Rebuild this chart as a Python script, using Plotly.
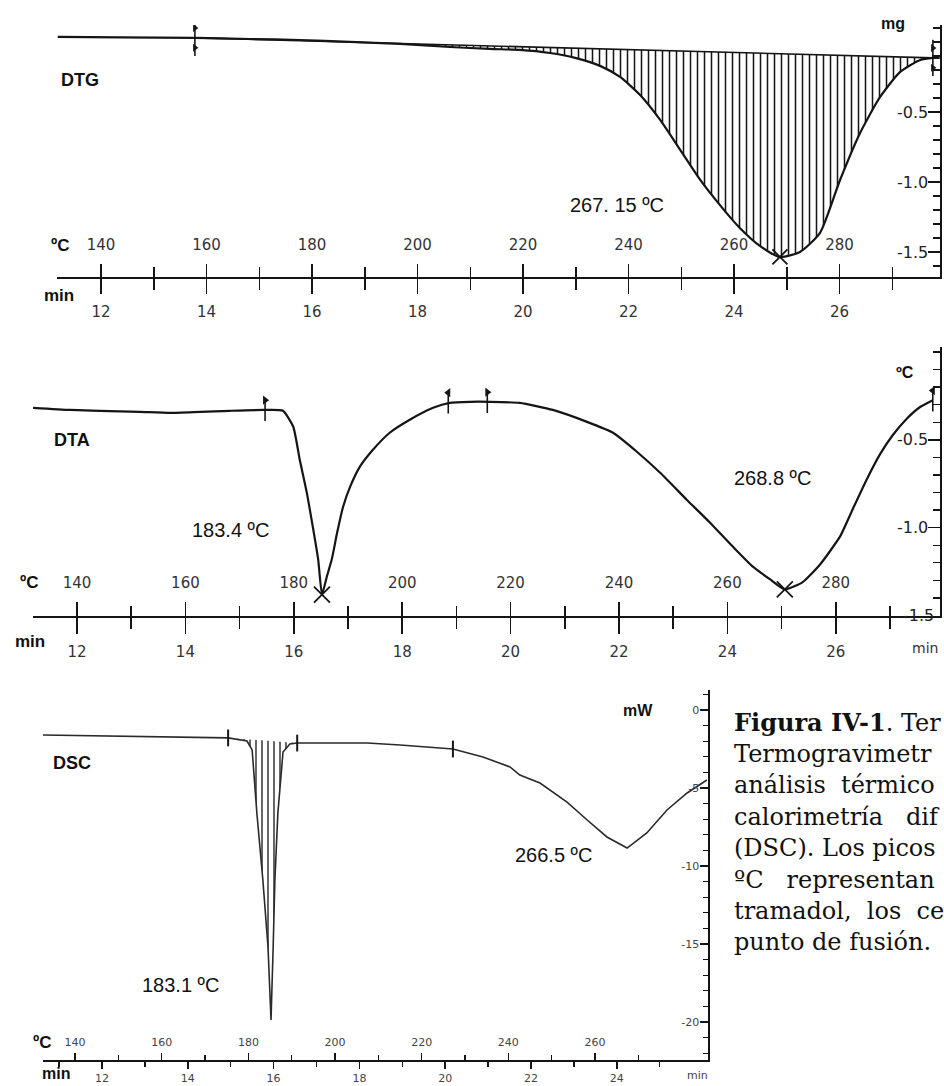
import plotly.graph_objects as go

W, H = 944, 1086


def px(x):
    return x / W


def py(y):
    return 1 - y / H


# ---------------- DATA ----------------
# DTG (time in min, signal in mg)
dtg_t = [11.18, 12.36, 13.78, 14.82, 15.77, 16.72, 17.67, 18.62, 19.37, 19.94, 20.51, 20.99,
         21.46, 21.84, 22.22, 22.60, 22.98, 23.36, 23.73, 24.11, 24.49, 24.87, 25.25, 25.63,
         26.01, 26.39, 26.77, 27.15, 27.53, 27.77, 27.90]
dtg_mg = [0.036, 0.032, 0.029, 0.021, 0.014, 0.0, -0.014, -0.036, -0.05, -0.057, -0.079, -0.114,
          -0.171, -0.25, -0.379, -0.557, -0.771, -0.986, -1.164, -1.329, -1.457, -1.536, -1.5, -1.364,
          -0.986, -0.65, -0.393, -0.214, -0.129, -0.114, -0.114]
dtg_flag_t = [13.78, 27.77]
dtg_flag_mg = [0.029, -0.114]
dtg_peak_t = [24.87]
dtg_peak_mg = [-1.536]

# DTA (time in min, signal in degC)
dta_t = [11.19, 11.87, 12.42, 13.16, 13.72, 14.27, 14.82, 15.47, 15.80, 15.99,
         16.11, 16.24, 16.35, 16.45, 16.52, 16.61, 16.70, 16.80, 16.91, 17.04,
         17.22, 17.46, 17.77, 18.14, 18.57, 18.88, 19.25, 19.62, 20.17, 20.78,
         21.41, 21.89, 22.33, 22.76, 23.25, 23.68, 24.10, 24.47, 24.79, 25.06,
         25.39, 25.71, 26.08, 26.32, 26.58, 26.82, 27.06, 27.31, 27.55, 27.79]
dta_c = [-0.318, -0.330, -0.335, -0.341, -0.347, -0.341, -0.335, -0.330, -0.335, -0.426,
         -0.614, -0.801, -0.994, -1.182, -1.381, -1.278, -1.182, -1.028, -0.881, -0.767,
         -0.653, -0.557, -0.460, -0.386, -0.318, -0.290, -0.284, -0.284, -0.290, -0.330,
         -0.398, -0.460, -0.568, -0.688, -0.841, -0.972, -1.108, -1.222, -1.295, -1.352,
         -1.310, -1.210, -1.050, -0.890, -0.720, -0.580, -0.470, -0.380, -0.315, -0.275]
dta_flag_t = [15.47, 18.85, 19.57, 27.79]
dta_flag_c = [-0.330, -0.287, -0.284, -0.275]
dta_flag_sym = ["triangle-right", "triangle-left", "triangle-right", "triangle-left"]
dta_peak_t = [16.52, 25.06]
dta_peak_c = [-1.381, -1.352]

# DSC (time in min, signal in mW)
dsc_t = [10.62, 11.95, 13.12, 14.94, 15.38, 15.50, 15.61, 15.75, 15.87, 15.94, 15.99, 16.03,
         16.10, 16.22, 16.38, 16.55, 18.18, 18.95, 20.18, 20.88, 21.51, 21.74, 22.21, 22.84,
         23.31, 23.77, 24.24, 24.70, 25.17, 25.64, 26.10]
dsc_mw = [-1.60, -1.67, -1.73, -1.79, -1.99, -2.56, -6.60, -10.90, -15.19, -19.87, -15.19, -10.90,
          -6.60, -2.69, -2.18, -2.12, -2.12, -2.24, -2.50, -3.01, -3.65, -4.17, -4.68, -5.90,
          -7.05, -8.14, -8.85, -7.88, -6.41, -5.32, -4.49]
dsc_bracket_t = [14.94, 16.55]
dsc_bracket_mw = [-1.79, -2.12]
dsc_flag_t = [20.18]
dsc_flag_mw = [-2.50]

# tick labels
min_ticks = [12, 14, 16, 18, 20, 22, 24, 26]
degc_ticks = [140, 160, 180, 200, 220, 240, 260, 280]
dsc_min_ticks = [12, 14, 16, 18, 20, 22, 24]
dsc_degc_ticks = [140, 160, 180, 200, 220, 240, 260]
dtg_y_ticks = [-1.5, -1.0, -0.5]
dta_y_ticks = [-1.0, -0.5]
dta_y_edge = -1.5
dsc_y_ticks = [0, -5, -10, -15, -20]

# ---------------- FIGURE ----------------
fig = go.Figure()
INK = "#151515"

# ---- DTG ----
sel = [i for i, t in enumerate(dtg_t) if dtg_flag_t[0] <= t <= dtg_flag_t[1]]
hx = [dtg_t[i] for i in sel] + [dtg_flag_t[1], dtg_flag_t[0]]
hy = [dtg_mg[i] for i in sel] + [dtg_flag_mg[1], dtg_flag_mg[0]]
fig.add_trace(go.Scatter(x=hx, y=hy, fill="toself", mode="lines", line=dict(width=0),
                         fillcolor="rgba(0,0,0,0)",
                         fillpattern=dict(shape="|", size=7, solidity=0.22, fgcolor=INK,
                                          bgcolor="rgba(0,0,0,0)"),
                         xaxis="x", yaxis="y", hoverinfo="skip", showlegend=False))
fig.add_trace(go.Scatter(x=dtg_flag_t, y=dtg_flag_mg, mode="lines", line=dict(color=INK, width=1.6),
                         xaxis="x", yaxis="y", hoverinfo="skip", showlegend=False))
fig.add_trace(go.Scatter(x=dtg_t, y=dtg_mg, mode="lines", line=dict(color=INK, width=2.2, shape="spline", smoothing=0.6),
                         xaxis="x", yaxis="y", hoverinfo="skip", showlegend=False))
fig.add_trace(go.Scatter(x=dtg_flag_t, y=dtg_flag_mg, mode="markers",
                         marker=dict(symbol="line-ns", size=26, line=dict(color=INK, width=1.6)),
                         xaxis="x", yaxis="y", hoverinfo="skip", showlegend=False))
fig.add_trace(go.Scatter(x=dtg_flag_t + dtg_flag_t, y=[v + 0.07 for v in dtg_flag_mg] + [v - 0.07 for v in dtg_flag_mg],
                         mode="markers", marker=dict(symbol="triangle-right", size=7, color=INK),
                         xaxis="x", yaxis="y", hoverinfo="skip", showlegend=False))
fig.add_trace(go.Scatter(x=dtg_peak_t, y=dtg_peak_mg, mode="markers",
                         marker=dict(symbol="x-thin", size=15, line=dict(color=INK, width=1.8)),
                         xaxis="x", yaxis="y", hoverinfo="skip", showlegend=False))
fig.add_trace(go.Scatter(x=[150], y=[None], mode="markers", xaxis="x2", yaxis="y",
                         hoverinfo="skip", showlegend=False))

# ---- DTA ----
fig.add_trace(go.Scatter(x=dta_t, y=dta_c, mode="lines", line=dict(color=INK, width=2.2, shape="spline", smoothing=0.5),
                         xaxis="x3", yaxis="y2", hoverinfo="skip", showlegend=False))
fig.add_trace(go.Scatter(x=dta_flag_t, y=dta_flag_c, mode="markers",
                         marker=dict(symbol="line-ns", size=16, line=dict(color=INK, width=1.6)),
                         xaxis="x3", yaxis="y2", hoverinfo="skip", showlegend=False))
fig.add_trace(go.Scatter(x=dta_flag_t, y=[v + 0.055 for v in dta_flag_c], mode="markers",
                         marker=dict(symbol=dta_flag_sym, size=8, color=INK),
                         xaxis="x3", yaxis="y2", hoverinfo="skip", showlegend=False))
fig.add_trace(go.Scatter(x=dta_peak_t, y=dta_peak_c, mode="markers",
                         marker=dict(symbol="x-thin", size=16, line=dict(color=INK, width=1.8)),
                         xaxis="x3", yaxis="y2", hoverinfo="skip", showlegend=False))
fig.add_trace(go.Scatter(x=[150], y=[None], mode="markers", xaxis="x4", yaxis="y2",
                         hoverinfo="skip", showlegend=False))

# ---- DSC ----
sel = [i for i, t in enumerate(dsc_t) if dsc_bracket_t[0] <= t <= dsc_bracket_t[1]]
fig.add_trace(go.Scatter(x=[dsc_t[i] for i in sel] + [dsc_bracket_t[0]],
                         y=[dsc_mw[i] for i in sel] + [dsc_bracket_mw[0]],
                         fill="toself", mode="lines", line=dict(width=0), fillcolor="rgba(0,0,0,0)",
                         fillpattern=dict(shape="|", size=6, solidity=0.25, fgcolor="#333",
                                          bgcolor="rgba(0,0,0,0)"),
                         xaxis="x5", yaxis="y3", hoverinfo="skip", showlegend=False))
fig.add_trace(go.Scatter(x=dsc_t, y=dsc_mw, mode="lines", line=dict(color="#2a2a2a", width=1.6),
                         xaxis="x5", yaxis="y3", hoverinfo="skip", showlegend=False))
fig.add_trace(go.Scatter(x=dsc_bracket_t + dsc_flag_t, y=dsc_bracket_mw + dsc_flag_mw, mode="markers",
                         marker=dict(symbol="line-ns", size=12, line=dict(color=INK, width=2)),
                         xaxis="x5", yaxis="y3", hoverinfo="skip", showlegend=False))
fig.add_trace(go.Scatter(x=[150], y=[None], mode="markers", xaxis="x6", yaxis="y3",
                         hoverinfo="skip", showlegend=False))

# ---------------- AXES ----------------
TICKFONT = dict(family="DejaVu Sans", size=15, color="#333")
SMALLFONT = dict(family="DejaVu Sans", size=11, color="#444")
LINE = dict(showline=True, linecolor=INK, linewidth=1.7, showgrid=False, zeroline=False)


def bottom_axis(domain, rng, vals, minor_vals, ticklen, minorlen, font, standoff, anchor):
    return dict(domain=domain, range=rng, anchor=anchor, side="bottom", ticks="outside",
                ticklen=ticklen, tickwidth=1.5, tickcolor=INK, tickmode="array", tickvals=vals,
                ticktext=[str(v) for v in vals], tickfont=font, ticklabelstandoff=standoff,
                minor=dict(tickmode="array", tickvals=minor_vals, ticks="outside", ticklen=minorlen,
                           tickwidth=1.5, tickcolor=INK, showgrid=False),
                **LINE)


def top_axis(over, position, rng, vals, minor_vals, ticklen, minorlen, font, standoff):
    return dict(overlaying=over, anchor="free", position=position, range=rng, side="top",
                ticks="outside", ticklen=ticklen, tickwidth=1.5, tickcolor=INK, tickmode="array",
                tickvals=vals, ticktext=[str(v) for v in vals], tickfont=font,
                ticklabelstandoff=standoff,
                minor=dict(tickmode="array", tickvals=minor_vals, ticks="outside", ticklen=minorlen,
                           tickwidth=1.5, tickcolor=INK, showgrid=False),
                **LINE)


def right_axis(domain, rng, vals, text, minor_vals, ticklen, minorlen, font, anchor):
    return dict(domain=domain, range=rng, anchor=anchor, side="right", ticks="inside",
                ticklen=ticklen, tickwidth=1.5, tickcolor=INK, tickmode="array", tickvals=vals,
                ticktext=text, tickfont=font, ticklabelposition="inside",
                minor=dict(tickmode="array", tickvals=minor_vals, ticks="inside", ticklen=minorlen,
                           tickwidth=1.3, tickcolor=INK, showgrid=False),
                **LINE)


odd_min = [11, 13, 15, 17, 19, 21, 23, 25, 27]
mid_deg = [130, 150, 170, 190, 210, 230, 250, 270, 290]
tenth = [round(0.1 * k, 1) for k in range(1, -17, -1)]
YFONT = dict(family="DejaVu Sans", size=16, color="#222")

layout_axes = dict(
    xaxis=bottom_axis([px(57), px(940)], [11.166, 27.905], min_ticks, odd_min, 15, 11, TICKFONT, 5, "y"),
    xaxis2=top_axis("x", py(277), [131.66, 299.05], degc_ticks, mid_deg, 13, 10, TICKFONT, 8),
    yaxis=right_axis([py(277), py(25)], [-1.679, 0.121], dtg_y_ticks, ["-1.5", "-1.0", "-0.5"],
                     tenth, 12, 7, YFONT, "x"),
    xaxis3=bottom_axis([px(33), px(940)], [11.188, 27.923], min_ticks, odd_min, 16, 11, TICKFONT, 5, "y2"),
    xaxis4=top_axis("x3", py(616), [131.88, 299.23], degc_ticks, mid_deg, 14, 10, TICKFONT, 8),
    yaxis2=right_axis([py(616), py(347)], [-1.503, 0.028], dta_y_ticks, ["-1.0", "-0.5"],
                      tenth, 12, 7, YFONT, "x3"),
    xaxis5=bottom_axis([px(43), px(708)], [10.625, 26.126], dsc_min_ticks,
                       [11, 13, 15, 17, 19, 21, 23, 25, 26], 7, 5, SMALLFONT, 0, "y3"),
    xaxis6=top_axis("x5", py(1060), [132.6, 286.08], dsc_degc_ticks,
                    [150, 170, 190, 210, 230, 250, 270, 280], 7, 5, SMALLFONT, 3),
    yaxis3=right_axis([py(1060), py(690)], [-22.436, 1.282], dsc_y_ticks, ["0", "-5", "-10", "-15", "-20"],
                      [k for k in range(1, -23, -1) if k % 5 != 0], 8, 5, SMALLFONT, "x5"),
)

# ---------------- TEXT ----------------
SANS = "Liberation Sans, Arial, sans-serif"


def ann(text, x, y, size, bold=False, color="#111", family=SANS, xanchor="center"):
    return dict(text=f"<b>{text}</b>" if bold else text, x=px(x), y=py(y), xref="paper", yref="paper",
                xanchor=xanchor, yanchor="middle", showarrow=False,
                font=dict(family=family, size=size, color=color))


annotations = [
    ann("DTG", 80, 80, 18, True),
    ann("DTA", 72, 440, 18, True),
    ann("DSC", 72, 763, 18, True),
    ann("mg", 893, 23, 16, True),
    ann("ºC", 905, 372, 16, True),
    ann("mW", 638, 710, 16, True),
    ann("ºC", 60, 245, 17, True),
    ann("min", 59, 296, 17, True),
    ann("ºC", 29, 582, 17, True),
    ann("min", 30, 641, 17, True),
    ann("ºC", 42, 1042, 17, True),
    ann("min", 56, 1073, 16, True),
    ann("min", 925, 648, 14, False, "#333", "DejaVu Sans"),
    ann("min", 697, 1075, 11, False, "#444", "DejaVu Sans"),
    ann("267. 15 ºC", 617, 205, 20),
    ann("183.4 ºC", 230, 530, 20),
    ann("268.8 ºC", 772, 478, 20),
    ann("266.5 ºC", 553, 855, 20),
    ann("183.1 ºC", 180, 985, 20),
]
# DTA "-1.5" tick label that sits on the bottom axis line
annotations.append(dict(text="-1.5", x=px(918), xref="paper", y=dta_y_edge, yref="y2",
                        xanchor="center", yanchor="middle", showarrow=False, font=YFONT))

caption = [
    "<b>Figura IV-1</b>. Ter",
    "Termogravimetr",
    "análisis\u00a0\u00a0térmico",
    "calorimetría\u00a0\u00a0\u00a0dif",
    "(DSC). Los picos",
    "ºC\u00a0\u00a0\u00a0representan",
    "tramadol,\u00a0\u00a0los\u00a0\u00a0ce",
    "punto de fusión.",
]
cap_y = [722, 754, 785, 817, 848, 880, 911, 942]
for line, yy in zip(caption, cap_y):
    annotations.append(ann(line, 732, yy, 24, False, "#111", "DejaVu Serif", "left"))

fig.update_layout(
    width=W, height=H, margin=dict(l=0, r=0, t=0, b=0),
    paper_bgcolor="white", plot_bgcolor="white", template="none",
    showlegend=False, annotations=annotations, **layout_axes,
)

fig.write_html(
    "out.html",
    config={"displayModeBar": False, "staticPlot": True},
    post_script="document.body.style.margin='0';document.body.style.padding='0';"
                "document.body.style.overflow='hidden';",
)
